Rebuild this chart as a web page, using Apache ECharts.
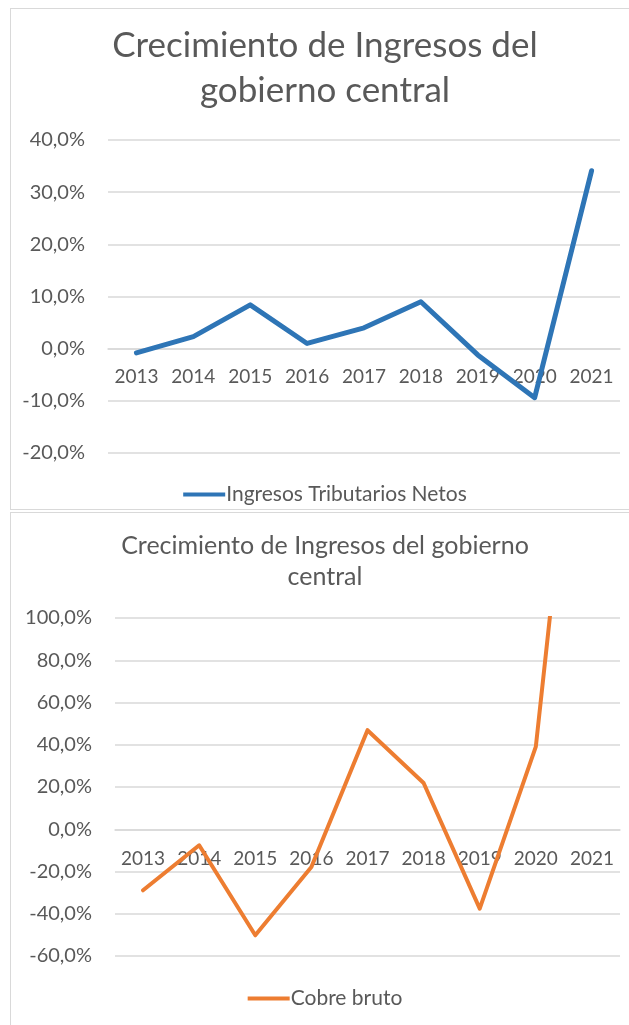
<!DOCTYPE html>
<html>
<head>
<meta charset="utf-8">
<script src="https://cdn.jsdelivr.net/npm/echarts@6/dist/echarts.min.js"></script>
<style>
  html, body { margin: 0; padding: 0; background: #fff; overflow: hidden; }
  .panel { position: absolute; left: 10px; width: 630px; box-sizing: border-box; border: 1px solid #d9d9d9; }
  #Ingresos { top: 8px; height: 502px; }
  #Cobre { top: 512px; height: 520px; }
</style>
</head>
<body>
<div id="Ingresos" class="panel"></div>
<div id="Cobre" class="panel"></div>
<script>
// datos
const years = ['2013', '2014', '2015', '2016', '2017', '2018', '2019', '2020', '2021']
const ingresosTributarios = [-0.8, 2.3, 8.4, 1.0, 4.0, 9.0, -1.2, -9.4, 34.1]
const cobreBruto = [-28.9, -7.6, -50.2, -17.9, 46.9, 21.9, -37.6, 39.1, 284]

const font = 'Lato'
const gris = '#595959'
const pct = v => v.toFixed(1).replace('.', ',') + '%'

const build = (cfg) => {
  const myChart = echarts.init(document.getElementById(cfg.dom))
  // eje de categorias cruzando en 0 (como Excel)
  const zeroOffset = -cfg.grid.height * (0 - cfg.min) / (cfg.max - cfg.min)
  const option = {
    animation: false,
    title: {
      text: cfg.title,
      left: 'center',
      top: cfg.titleTop,
      padding: 0,
      textStyle: {
        fontFamily: font,
        fontWeight: 'normal',
        fontSize: cfg.titleSize,
        lineHeight: cfg.titleLine,
        color: gris,
      },
    },
    legend: {
      data: [cfg.name],
      left: 'center',
      top: cfg.legendTop,
      padding: 0,
      icon: 'rect',
      itemWidth: 42,
      itemHeight: 4,
      textStyle: { fontFamily: font, fontSize: 21, color: gris, padding: [0, 0, 0, -4] },
    },
    grid: cfg.grid,
    xAxis: {
      type: 'category',
      data: years,
      offset: zeroOffset,
      axisLine: { show: true, onZero: false, lineStyle: { color: '#d9d9d9', width: 1.5 } },
      axisTick: { show: false },
      axisLabel: { interval: 0, fontFamily: font, fontSize: 19, color: gris, margin: cfg.xMargin },
    },
    yAxis: {
      type: 'value',
      min: cfg.min,
      max: cfg.max,
      interval: cfg.interval,
      axisLine: { show: false },
      axisTick: { show: false },
      axisLabel: { fontFamily: font, fontSize: 20, color: gris, margin: 23, formatter: pct },
      splitLine: { lineStyle: { color: '#d9d9d9', width: 1.5 } },
    },
    series: [
      {
        name: cfg.name,
        type: 'line',
        data: cfg.data,
        symbol: 'none',
        color: cfg.color,
        lineStyle: { width: cfg.width, cap: 'round', join: 'round' },
      },
    ],
  }
  myChart.setOption(option)
  window.addEventListener('resize', function () {
    myChart.resize()
  })
}

build({
  dom: 'Ingresos',
  title: 'Crecimiento de Ingresos del\ngobierno central',
  titleTop: 14, titleSize: 35, titleLine: 45,
  name: 'Ingresos Tributarios Netos',
  legendTop: 475,
  grid: { left: 97, top: 131, width: 512, height: 313 },
  xMargin: 19,
  min: -20, max: 40, interval: 10,
  data: ingresosTributarios,
  color: '#2e75b6', width: 5,
})

build({
  dom: 'Cobre',
  title: 'Crecimiento de Ingresos del gobierno\ncentral',
  titleTop: 17, titleSize: 25, titleLine: 31,
  name: 'Cobre bruto',
  legendTop: 475,
  grid: { left: 104, top: 105, width: 505, height: 338 },
  xMargin: 20,
  min: -60, max: 100, interval: 20,
  data: cobreBruto,
  color: '#ed7d31', width: 4,
})
</script>
</body>
</html>
